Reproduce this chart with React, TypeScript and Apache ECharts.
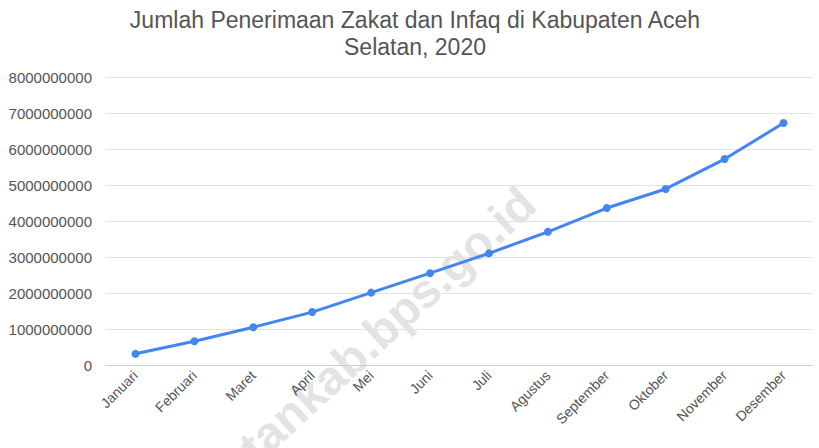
import React, { useEffect, useRef } from "react";
import * as echarts from "echarts";

const months = ["Januari", "Februari", "Maret", "April", "Mei", "Juni", "Juli", "Agustus", "September", "Oktober", "November", "Desember"];
const zakatInfaq = [310000000, 660000000, 1050000000, 1470000000, 2010000000, 2550000000, 3100000000, 3700000000, 4360000000, 4890000000, 5720000000, 6720000000];
const yMin = 0;
const yMax = 8000000000;
const yStep = 1000000000;
const titleText = "Jumlah Penerimaan Zakat dan Infaq di Kabupaten Aceh\nSelatan, 2020";
const watermark = "acehselatankab.bps.go.id";

export default function App() {
  const ref = useRef<HTMLDivElement>(null);
  useEffect(() => {
    const chart = echarts.init(ref.current!, null, { renderer: "svg" });
    chart.setOption({
      animation: false,
      backgroundColor: "#ffffff",
      textStyle: { fontFamily: "Liberation Sans, Arial, sans-serif" },
      title: {
        text: titleText,
        left: 410,
        textAlign: "center",
        top: 1,
        textStyle: { fontSize: 23, fontWeight: "normal", color: "#555555", lineHeight: 27, fontFamily: "Liberation Sans, Arial, sans-serif" },
      },
      graphic: [
        {
          type: "text",
          x: 528,
          y: 196,
          rotation: 0.74,
          z: -1,
          silent: true,
          style: {
            text: watermark,
            align: "right",
            verticalAlign: "middle",
            fontSize: 48,
            fontWeight: "bold",
            fontFamily: "Liberation Sans, Arial, sans-serif",
            fill: "rgba(200,200,200,0.5)",
          },
        },
      ],
      grid: { left: 106, right: 6, top: 77, bottom: 83, containLabel: false },
      xAxis: {
        type: "category",
        data: months,
        boundaryGap: true,
        axisLine: { show: true, lineStyle: { color: "#cccccc", width: 1 } },
        axisTick: { show: false },
        axisLabel: { rotate: 45, fontSize: 14, color: "#555555", margin: 8, interval: 0 },
        splitLine: { show: false },
      },
      yAxis: {
        type: "value",
        min: yMin,
        max: yMax,
        interval: yStep,
        axisLine: { show: false },
        axisTick: { show: false },
        axisLabel: { fontSize: 15, color: "#555555", margin: 14, formatter: (v: number) => String(v) },
        splitLine: { lineStyle: { color: "#e2e2e2", width: 1 } },
      },
      series: [
        {
          type: "line",
          data: zakatInfaq,
          symbol: "circle",
          symbolSize: 8,
          lineStyle: { color: "#4285f4", width: 3 },
          itemStyle: { color: "#4285f4" },
          z: 5,
        },
      ],
    });
    return () => chart.dispose();
  }, []);
  return <div ref={ref} style={{ width: 819, height: 448, position: "absolute", left: 0, top: 0 }} />;
}
